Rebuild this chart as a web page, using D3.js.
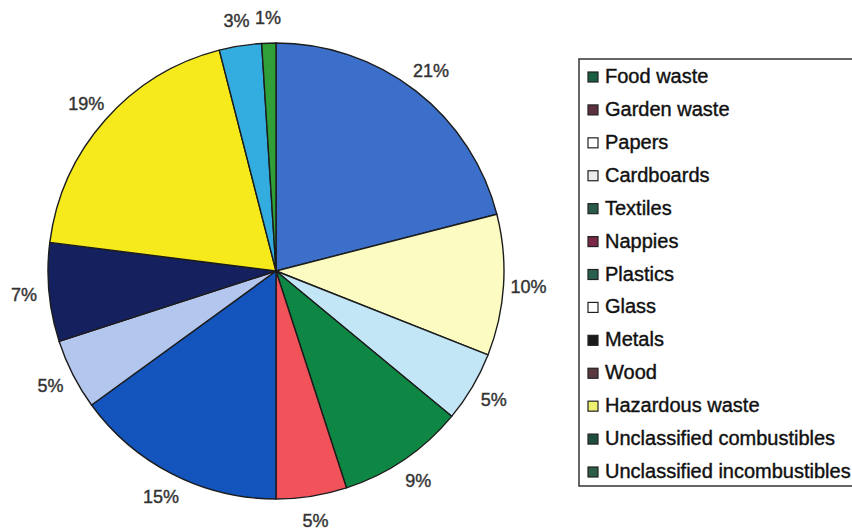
<!DOCTYPE html>
<html>
<head>
<meta charset="utf-8">
<script src="https://cdn.jsdelivr.net/npm/d3@7"></script>
<style>
  body { margin: 0; background: #fff; }
  svg { display: block; }
</style>
</head>
<body>
<svg width="852" height="532"></svg>
<script>
// slice values, clockwise from 12 o'clock
var sliceValues = [21, 10, 5, 9, 5, 15, 5, 7, 19, 3, 1];
var sliceColors = ["#3b6fca", "#fbfbc2", "#c2e6f6", "#0e8744", "#f2525a", "#1354bd",
                   "#b3c6ee", "#15215f", "#f6ea1c", "#33ade0", "#2fa037"];

// legend (as printed, swatches don't line up with the slices)
var legendNames = ["Food waste", "Garden waste", "Papers", "Cardboards", "Textiles", "Nappies",
                   "Plastics", "Glass", "Metals", "Wood", "Hazardous waste",
                   "Unclassified combustibles", "Unclassified incombustibles"];
var legendColors = ["#1b5e42", "#5b3040", "#ffffff", "#ececec", "#2a5a48", "#7a2848",
                    "#2a6050", "#ffffff", "#1a1a1a", "#5a3a40", "#eef070",
                    "#1e4e40", "#2e5e48"];

var svg = d3.select("svg");
var cx = 276, cy = 271, r = 228;

var pie = d3.pie().sort(null).value(function(d) { return d; });
var arc = d3.arc().innerRadius(0).outerRadius(r);
var labelArc = d3.arc().innerRadius(r * 1.11).outerRadius(r * 1.11);

var g = svg.append("g").attr("transform", "translate(" + cx + "," + cy + ")");

g.selectAll("path")
  .data(pie(sliceValues))
  .enter().append("path")
    .attr("d", arc)
    .attr("fill", function(d, i) { return sliceColors[i]; })
    .attr("stroke", "#1c1c1c")
    .attr("stroke-width", 1.4)
    .attr("stroke-linejoin", "round");

g.selectAll("text")
  .data(pie(sliceValues))
  .enter().append("text")
    .attr("transform", function(d) { return "translate(" + labelArc.centroid(d) + ")"; })
    .attr("text-anchor", "middle")
    .attr("dy", "0.35em")
    .attr("font-family", "Liberation Sans, Arial, sans-serif")
    .attr("font-size", 18)
    .attr("fill", "#333")
    .attr("stroke", "#333")
    .attr("stroke-width", 0.4)
    .text(function(d) { return d.value + "%"; });

// legend box
var lx = 579, ly = 59;
var legend = svg.append("g");
legend.append("rect")
  .attr("x", lx).attr("y", ly)
  .attr("width", 300).attr("height", 427)
  .attr("fill", "#fff")
  .attr("stroke", "#333")
  .attr("stroke-width", 1.5);

var y = d3.scalePoint().domain(legendNames).range([83, 478]);

var item = legend.selectAll("g.item")
  .data(legendNames)
  .enter().append("g")
    .attr("class", "item")
    .attr("transform", function(d) { return "translate(0," + y(d) + ")"; });

item.append("rect")
  .attr("x", 588).attr("y", -11)
  .attr("width", 10).attr("height", 10)
  .attr("fill", function(d, i) { return legendColors[i]; })
  .attr("stroke", "#222")
  .attr("stroke-width", 1.2);

item.append("text")
  .attr("x", 605)
  .attr("font-family", "Liberation Sans, Arial, sans-serif")
  .attr("font-size", 20)
  .attr("fill", "#111")
  .attr("stroke", "#111")
  .attr("stroke-width", 0.4)
  .text(function(d) { return d; });
</script>
</body>
</html>
